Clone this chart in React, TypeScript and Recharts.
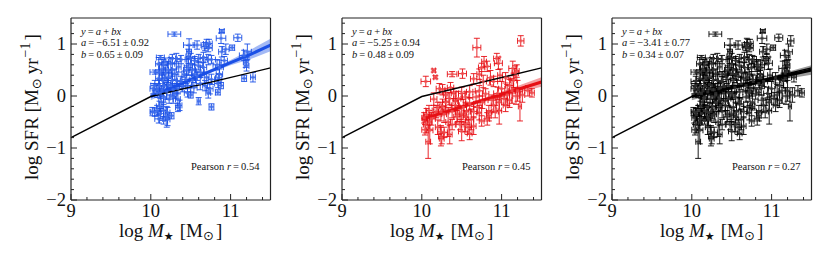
import React from "react";
import {
  Area,
  ComposedChart,
  ErrorBar,
  Line,
  Scatter,
  XAxis,
  YAxis,
} from "recharts";

type Row = [number, number, number, number];

// [log mass, log sfr, mass err, sfr err]
const blueRows: Row[] = [
  [10.295, 1.19, 0.08, 0.04], [10.89, 1.25, 0.03, 0.03], [10.88, 1.11, 0.06, 0.1], [11.09, 1.12, 0.05, 0.07],
  [11.02, 0.93, 0.03, 0.05], [10.48, 0.98, 0.07, 0.12], [10.58, 0.98, 0.05, 0.08], [10.7, 1.0, 0.04, 0.09],
  [10.73, 1.01, 0.04, 0.08], [10.68, 0.95, 0.04, 0.08], [10.72, 0.92, 0.05, 0.07], [11.21, 0.85, 0.05, 0.15],
  [10.89, 0.85, 0.04, 0.1], [10.94, 0.9, 0.04, 0.1], [10.12, 0.74, 0.05, 0.04], [10.32, 0.72, 0.05, 0.1],
  [10.27, 0.72, 0.04, 0.08], [10.38, 0.7, 0.05, 0.08], [10.1, 0.62, 0.04, 0.12], [10.16, 0.6, 0.05, 0.1],
  [10.05, 0.46, 0.06, 0.04], [10.11, 0.46, 0.05, 0.14], [10.14, 0.52, 0.04, 0.12], [10.19, 0.44, 0.05, 0.1],
  [10.1, 0.34, 0.04, 0.1], [10.15, 0.3, 0.05, 0.12], [10.22, 0.36, 0.05, 0.1], [10.25, 0.62, 0.05, 0.12],
  [10.27, 0.5, 0.05, 0.12], [10.3, 0.42, 0.04, 0.1], [10.47, 0.55, 0.05, 0.15], [10.5, 0.62, 0.05, 0.12],
  [10.48, 0.85, 0.03, 0.12], [10.47, 0.76, 0.03, 0.14], [10.5, 0.72, 0.05, 0.1], [10.55, 0.68, 0.04, 0.08],
  [10.6, 0.72, 0.05, 0.08], [10.66, 0.74, 0.04, 0.1], [10.72, 0.7, 0.04, 0.1], [10.76, 0.7, 0.05, 0.08],
  [10.6, 0.58, 0.05, 0.08], [10.66, 0.55, 0.04, 0.1], [10.52, 0.5, 0.04, 0.1], [10.45, 0.5, 0.04, 0.08],
  [10.83, 0.6, 0.05, 0.1], [10.86, 0.55, 0.05, 0.14], [10.92, 0.68, 0.04, 0.08], [11.19, 0.65, 0.03, 0.1],
  [11.2, 0.58, 0.03, 0.1], [11.17, 0.78, 0.06, 0.1], [11.17, 0.34, 0.03, 0.06], [11.28, 0.36, 0.03, 0.09],
  [10.86, 0.42, 0.04, 0.1], [10.85, 0.35, 0.04, 0.08], [10.76, 0.32, 0.04, 0.1], [10.7, 0.36, 0.03, 0.1],
  [10.58, 0.38, 0.05, 0.08], [10.52, 0.3, 0.04, 0.1], [10.44, 0.32, 0.05, 0.08], [10.38, 0.28, 0.05, 0.1],
  [10.32, 0.3, 0.05, 0.12], [10.27, 0.3, 0.06, 0.14], [10.22, 0.22, 0.05, 0.12], [10.16, 0.2, 0.05, 0.1],
  [10.11, 0.2, 0.06, 0.1], [10.05, 0.2, 0.05, 0.1], [10.03, 0.14, 0.04, 0.1], [10.08, 0.12, 0.05, 0.1],
  [10.14, 0.1, 0.05, 0.1], [10.2, 0.08, 0.05, 0.14], [10.28, 0.12, 0.04, 0.12], [10.34, 0.14, 0.05, 0.1],
  [10.4, 0.18, 0.04, 0.1], [10.46, 0.2, 0.05, 0.12], [10.54, 0.16, 0.04, 0.1], [10.62, 0.24, 0.05, 0.12],
  [10.68, 0.2, 0.03, 0.1], [10.74, 0.14, 0.04, 0.1], [10.84, 0.24, 0.04, 0.08], [10.88, 0.2, 0.03, 0.06],
  [10.84, 0.07, 0.03, 0.05], [10.72, 0.06, 0.03, 0.1], [10.6, -0.1, 0.02, 0.07], [10.76, -0.21, 0.03, 0.06],
  [10.5, 0.02, 0.03, 0.06], [10.46, 0.06, 0.04, 0.08], [10.34, -0.06, 0.03, 0.12], [10.36, -0.18, 0.03, 0.1],
  [10.34, -0.22, 0.03, 0.08], [10.28, -0.02, 0.04, 0.12], [10.23, -0.06, 0.05, 0.08], [10.16, -0.02, 0.04, 0.1],
  [10.13, -0.12, 0.03, 0.12], [10.11, -0.2, 0.04, 0.1], [10.02, -0.3, 0.03, 0.08], [10.05, -0.31, 0.05, 0.08],
  [10.08, -0.28, 0.04, 0.1], [10.12, -0.34, 0.04, 0.1], [10.16, -0.28, 0.03, 0.12], [10.1, -0.44, 0.05, 0.08],
  [10.16, -0.47, 0.05, 0.07], [10.21, -0.32, 0.03, 0.1], [10.21, -0.45, 0.03, 0.12], [10.2, -0.4, 0.02, 0.2],
  [10.26, -0.38, 0.03, 0.06], [10.22, 0.5, 0.04, 0.16], [10.18, 0.66, 0.04, 0.07], [10.35, 0.56, 0.03, 0.1],
  [10.55, 0.42, 0.04, 0.1], [10.62, 0.46, 0.05, 0.1], [10.42, 0.42, 0.03, 0.06], [10.08, 0.05, 0.03, 0.08],
  [10.25, 0.2, 0.05, 0.1], [10.3, 0.05, 0.03, 0.1], [10.18, 0.35, 0.04, 0.1], [10.12, 0.05, 0.04, 0.1],
];

const redRows: Row[] = [
  [11.24, 1.06, 0.04, 0.1], [10.69, 0.93, 0.05, 0.18], [10.15, 0.49, 0.02, 0.03], [10.17, 0.36, 0.02, 0.03],
  [10.05, 0.28, 0.06, 0.1], [10.38, 0.42, 0.06, 0.05], [10.51, 0.43, 0.05, 0.09], [10.65, 0.33, 0.04, 0.1],
  [10.78, 0.66, 0.03, 0.1], [10.75, 0.55, 0.04, 0.08], [10.82, 0.57, 0.04, 0.1], [10.96, 0.63, 0.05, 0.12],
  [10.94, 0.72, 0.04, 0.1], [11.14, 0.53, 0.05, 0.14], [11.17, 0.44, 0.04, 0.14], [11.19, 0.48, 0.03, 0.12],
  [10.08, -0.88, 0.03, 0.32], [10.04, -0.65, 0.04, 0.1], [10.25, -0.82, 0.03, 0.1], [10.24, -0.69, 0.04, 0.12],
  [10.28, -0.7, 0.04, 0.1], [10.1, -0.66, 0.04, 0.26], [10.03, -0.42, 0.03, 0.1], [10.06, -0.36, 0.04, 0.12],
  [10.09, -0.28, 0.04, 0.1], [10.12, -0.44, 0.05, 0.12], [10.15, -0.06, 0.04, 0.12], [10.22, 0.14, 0.04, 0.1],
  [10.26, 0.12, 0.03, 0.1], [10.3, 0.02, 0.03, 0.12], [10.36, 0.16, 0.04, 0.1], [10.35, -0.05, 0.05, 0.12],
  [10.26, -0.2, 0.04, 0.14], [10.28, -0.35, 0.03, 0.16], [10.33, -0.5, 0.03, 0.28], [10.35, -0.74, 0.03, 0.18],
  [10.38, -0.3, 0.04, 0.12], [10.42, -0.18, 0.05, 0.1], [10.46, -0.05, 0.03, 0.14], [10.5, 0.05, 0.04, 0.12],
  [10.44, -0.4, 0.04, 0.12], [10.48, -0.55, 0.05, 0.1], [10.5, -0.68, 0.04, 0.18], [10.55, -0.55, 0.05, 0.14],
  [10.58, -0.6, 0.04, 0.14], [10.62, -0.45, 0.03, 0.2], [10.65, -0.3, 0.04, 0.1], [10.7, -0.22, 0.05, 0.12],
  [10.75, -0.48, 0.03, 0.1], [10.82, -0.44, 0.03, 0.12], [10.84, -0.38, 0.03, 0.1], [10.92, -0.3, 0.04, 0.12],
  [10.97, -0.28, 0.03, 0.26], [10.88, -0.08, 0.05, 0.1], [10.8, 0.04, 0.04, 0.1], [10.72, 0.1, 0.05, 0.1],
  [10.6, 0.08, 0.04, 0.12], [10.55, -0.02, 0.04, 0.1], [10.6, -0.15, 0.05, 0.12], [10.68, -0.02, 0.04, 0.1],
  [10.76, -0.12, 0.03, 0.12], [10.95, 0.05, 0.05, 0.12], [11.0, 0.14, 0.04, 0.14], [11.03, -0.05, 0.04, 0.12],
  [11.07, 0.02, 0.03, 0.2], [11.1, 0.2, 0.05, 0.12], [11.13, 0.1, 0.04, 0.24], [11.18, 0.0, 0.04, 0.16],
  [11.2, 0.1, 0.03, 0.2], [11.26, 0.02, 0.03, 0.14], [11.23, -0.2, 0.02, 0.28], [11.38, 0.06, 0.03, 0.08],
  [11.33, 0.1, 0.04, 0.1], [10.86, 0.35, 0.04, 0.14], [10.9, 0.28, 0.05, 0.1], [10.98, 0.4, 0.03, 0.12],
  [11.05, 0.35, 0.04, 0.1], [10.77, 0.28, 0.04, 0.12], [10.72, 0.42, 0.03, 0.1], [11.15, 0.3, 0.04, 0.14],
  [10.05, -0.55, 0.03, 0.16], [10.1, -0.5, 0.03, 0.14], [10.18, -0.3, 0.03, 0.12], [10.2, -0.22, 0.05, 0.1],
  [10.24, -0.3, 0.03, 0.18], [10.24, -0.78, 0.03, 0.18], [10.2, -0.6, 0.03, 0.14], [10.3, -0.12, 0.04, 0.18],
  [10.42, -0.1, 0.03, 0.18], [10.45, -0.35, 0.03, 0.14], [10.5, -0.35, 0.03, 0.14], [10.52, -0.22, 0.04, 0.16],
  [10.56, -0.3, 0.03, 0.16], [10.6, -0.72, 0.03, 0.12], [10.65, -0.58, 0.03, 0.16], [10.55, -0.4, 0.03, 0.12],
  [10.4, 0.05, 0.03, 0.1], [10.38, -0.55, 0.04, 0.1], [10.72, -0.32, 0.03, 0.14], [10.84, -0.3, 0.03, 0.12],
  [10.9, -0.18, 0.03, 0.14], [10.97, -0.12, 0.03, 0.16], [11.05, -0.18, 0.03, 0.12], [11.1, -0.08, 0.03, 0.14],
];

const blackRows: Row[] = [...blueRows, ...redRows];

const breakX = [9, 10, 11.5];
const breakY = [-0.8, -0.01, 0.54];

const fitX = [10, 10.25, 10.5, 10.75, 11, 11.25, 11.5];
const blueFit = [-0.01, 0.15, 0.315, 0.48, 0.64, 0.8, 0.98];
const blueErr = [0.07, 0.05, 0.035, 0.035, 0.05, 0.09, 0.12];
const redFit = [-0.45, -0.33, -0.21, -0.09, 0.03, 0.15, 0.27];
const redErr = [0.08, 0.06, 0.04, 0.04, 0.05, 0.07, 0.09];
const blackFit = [-0.01, 0.075, 0.16, 0.245, 0.33, 0.415, 0.5];
const blackErr = [0.07, 0.05, 0.04, 0.04, 0.05, 0.07, 0.09];

const xTicks = [9, 9.2, 9.4, 9.6, 9.8, 10, 10.2, 10.4, 10.6, 10.8, 11, 11.2, 11.4];
const yTicks = [-2, -1.8, -1.6, -1.4, -1.2, -1, -0.8, -0.6, -0.4, -0.2, 0, 0.2, 0.4, 0.6, 0.8, 1, 1.2, 1.4];

const SERIF = "'Liberation Serif', 'Times New Roman', serif";
const INK = "#222";
const PLOT_W = 199.5;
const PLOT_H = 182;
const LEFT = 71;
const TOP = 18;
const THIN = "\u2009";

const isMajor = (v: number) => Number.isInteger(v);
const fmt = (v: number) => (v < 0 ? `\u2212${-v}` : `${v}`);

function BottomTick({ x, y, payload }: any) {
  const len = isMajor(payload.value) ? 6 : 3;
  return (
    <g>
      <line x1={x} x2={x} y1={y} y2={y - len} stroke={INK} strokeWidth={1} />
      {isMajor(payload.value) && (
        <text x={x} y={y + 16.5} textAnchor="middle" fontFamily={SERIF} fontSize={18.5} fill="#111">
          {fmt(payload.value)}
        </text>
      )}
    </g>
  );
}

function TopTick({ x, y, payload }: any) {
  const len = isMajor(payload.value) ? 6 : 3;
  return <line x1={x} x2={x} y1={y} y2={y + len} stroke={INK} strokeWidth={1} />;
}

function LeftTick({ x, y, payload }: any) {
  const len = isMajor(payload.value) ? 6 : 3;
  return (
    <g>
      <line x1={x} x2={x + len} y1={y} y2={y} stroke={INK} strokeWidth={1} />
      {isMajor(payload.value) && (
        <text x={x - 5} y={y + 6} textAnchor="end" fontFamily={SERIF} fontSize={18.5} fill="#111">
          {fmt(payload.value)}
        </text>
      )}
    </g>
  );
}

function RightTick({ x, y, payload }: any) {
  const len = isMajor(payload.value) ? 6 : 3;
  return <line x1={x} x2={x - len} y1={y} y2={y} stroke={INK} strokeWidth={1} />;
}

interface PanelProps {
  left: number;
  rows: Row[];
  fit: number[];
  err: number[];
  color: string;
  squareFill: string;
  a: string;
  b: string;
  r: string;
}

function Panel({ left, rows, fit, err, color, squareFill, a, b, r }: PanelProps) {
  const points = rows.map(([x, y, ex, ey]) => ({ x, y, ex, ey }));
  const breakLine = breakX.map((x, i) => ({ x, ref: breakY[i] }));
  const fitLine = fitX.map((x, i) => ({ x, fit: fit[i], band: [fit[i] - err[i], fit[i] + err[i]] }));

  const Square = ({ cx, cy }: any) => (
    <rect x={cx - 1.5} y={cy - 1.5} width={3} height={3} fill={squareFill} />
  );

  return (
    <div style={{ position: "absolute", left: left - LEFT, top: 0, width: 280, height: 262 }}>
      <ComposedChart
        width={280}
        height={262}
        margin={{ top: TOP - 1, right: 280 - LEFT - PLOT_W - 1, bottom: 262 - TOP - PLOT_H - 1, left: 0 }}
      >
        <XAxis
          xAxisId="bottom"
          type="number"
          dataKey="x"
          domain={[9, 11.5]}
          ticks={xTicks}
          interval={0}
          height={1}
          tickSize={0}
          tickMargin={0}
          tick={<BottomTick />}
          axisLine={{ stroke: INK, strokeWidth: 1.2 }}
          tickLine={false}
        />
        <XAxis
          xAxisId="top"
          orientation="top"
          type="number"
          dataKey="x"
          domain={[9, 11.5]}
          ticks={xTicks}
          interval={0}
          height={1}
          tickSize={0}
          tickMargin={0}
          tick={<TopTick />}
          axisLine={{ stroke: INK, strokeWidth: 1.2 }}
          tickLine={false}
        />
        <YAxis
          yAxisId="left"
          type="number"
          domain={[-2, 1.5]}
          ticks={yTicks}
          interval={0}
          width={LEFT}
          tickSize={0}
          tickMargin={0}
          tick={<LeftTick />}
          axisLine={{ stroke: INK, strokeWidth: 1.2 }}
          tickLine={false}
        />
        <YAxis
          yAxisId="right"
          orientation="right"
          type="number"
          domain={[-2, 1.5]}
          ticks={yTicks}
          interval={0}
          width={1}
          tickSize={0}
          tickMargin={0}
          tick={<RightTick />}
          axisLine={{ stroke: INK, strokeWidth: 1.2 }}
          tickLine={false}
        />
        <Scatter
          data={points}
          dataKey="y"
          xAxisId="bottom"
          yAxisId="left"
          shape={<Square />}
          isAnimationActive={false}
        >
          <ErrorBar dataKey="ex" direction="x" width={3} stroke={color} strokeWidth={0.9} isAnimationActive={false} />
          <ErrorBar dataKey="ey" direction="y" width={3} stroke={color} strokeWidth={0.9} isAnimationActive={false} />
        </Scatter>
        <Area
          data={fitLine}
          dataKey="band"
          xAxisId="bottom"
          yAxisId="left"
          type="linear"
          stroke="none"
          fill={color}
          fillOpacity={0.4}
          dot={false}
          activeDot={false}
          isAnimationActive={false}
        />
        <Line
          data={fitLine}
          dataKey="fit"
          xAxisId="bottom"
          yAxisId="left"
          type="linear"
          stroke={color}
          strokeWidth={3}
          dot={false}
          activeDot={false}
          isAnimationActive={false}
        />
        <Line
          data={breakLine}
          dataKey="ref"
          xAxisId="bottom"
          yAxisId="left"
          type="linear"
          stroke="#000"
          strokeWidth={1.4}
          dot={false}
          activeDot={false}
          isAnimationActive={false}
        />
      </ComposedChart>

      <svg width={280} height={262} style={{ position: "absolute", left: 0, top: 0, pointerEvents: "none" }}>
        <g fontFamily={SERIF} fontSize={10.5} fill="#111">
          <text x={LEFT + 10} y={35}>
            <tspan fontStyle="italic">y</tspan>{THIN}={THIN}<tspan fontStyle="italic">a</tspan>{THIN}+{THIN}<tspan fontStyle="italic">bx</tspan>
          </text>
          <text x={LEFT + 10} y={46}>
            <tspan fontStyle="italic">a</tspan>{THIN}={THIN}{a}
          </text>
          <text x={LEFT + 10} y={58}>
            <tspan fontStyle="italic">b</tspan>{THIN}={THIN}{b}
          </text>
          <text x={LEFT + 120} y={170}>
            Pearson <tspan fontStyle="italic">r</tspan>{THIN}={THIN}{r}
          </text>
        </g>
        <text x={119} y={237} fontFamily={SERIF} fontSize={19} fill="#111">
          log <tspan fontStyle="italic">M</tspan>
          <tspan fontSize={11} dy={3} fontFamily="DejaVu Sans">★</tspan>
          <tspan dy={-3} dx={6}>[M</tspan>
          <tspan fontSize={13} dy={3} fontFamily="DejaVu Sans">⊙</tspan>
          <tspan dy={-3} dx={2}>]</tspan>
        </text>
        <text
          transform="translate(38,180) rotate(-90)"
          fontFamily={SERIF}
          fontSize={19}
          fill="#111"
        >
          log SFR [M
          <tspan fontSize={13} dy={3} fontFamily="DejaVu Sans">⊙</tspan>
          <tspan dy={-3} dx={4}>yr</tspan>
          <tspan fontSize={14} dy={-8} dx={1}>−1</tspan>
          <tspan dy={8} dx={2}>]</tspan>
        </text>
      </svg>
    </div>
  );
}

export default function App() {
  return (
    <div style={{ position: "absolute", left: 0, top: 0, width: 830, height: 262, background: "#fff", overflow: "hidden" }}>
      <Panel left={71} rows={blueRows} fit={blueFit} err={blueErr} color="#1a4fe6" squareFill="rgba(70,115,235,0.7)" a={`−6.51${THIN}±${THIN}0.92`} b={`0.65${THIN}±${THIN}0.09`} r="0.54" />
      <Panel left={341.7} rows={redRows} fit={redFit} err={redErr} color="#e60f14" squareFill="rgba(240,90,90,0.7)" a={`−5.25${THIN}±${THIN}0.94`} b={`0.48${THIN}±${THIN}0.09`} r="0.45" />
      <Panel left={612.3} rows={blackRows} fit={blackFit} err={blackErr} color="#000000" squareFill="rgba(60,60,60,0.7)" a={`−3.41${THIN}±${THIN}0.77`} b={`0.34${THIN}±${THIN}0.07`} r="0.27" />
    </div>
  );
}
